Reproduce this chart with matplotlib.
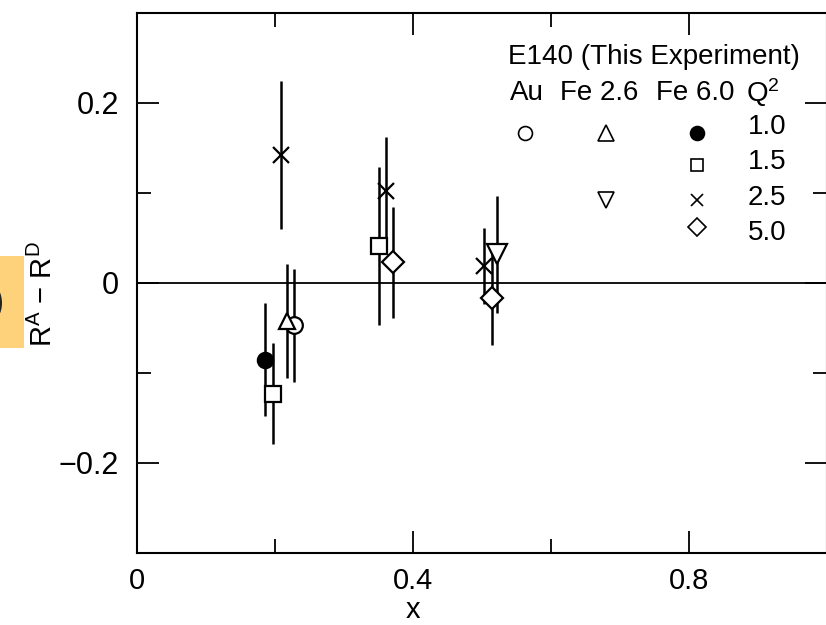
import matplotlib
matplotlib.use("Agg")
import matplotlib.pyplot as plt
from matplotlib.patches import Rectangle, Ellipse

plt.rcParams['font.family'] = ['Liberation Sans', 'DejaVu Sans']
plt.rcParams['mathtext.fontset'] = 'custom'
plt.rcParams['mathtext.rm'] = 'Liberation Sans'
plt.rcParams['mathtext.it'] = 'Liberation Sans'

# E140 measurements of R^A - R^D
au_x = [0.228]
au_y = [-0.047]
au_err = [0.063]

fe26_q10_x = [0.217]
fe26_q10_y = [-0.042]
fe26_q10_err = [0.063]

fe26_q25_x = [0.522]
fe26_q25_y = [0.032]
fe26_q25_err = [0.065]

fe60_q10_x = [0.186]
fe60_q10_y = [-0.085]
fe60_q10_err = [0.063]

fe60_q15_x = [0.197, 0.351]
fe60_q15_y = [-0.123, 0.041]
fe60_q15_err = [0.056, 0.088]

fe60_q25_x = [0.209, 0.361, 0.503]
fe60_q25_y = [0.142, 0.102, 0.019]
fe60_q25_err = [0.082, 0.060, 0.042]

fe60_q50_x = [0.371, 0.514]
fe60_q50_y = [0.023, -0.017]
fe60_q50_err = [0.062, 0.052]

q2_labels = ["1.0", "1.5", "2.5", "5.0"]
column_labels = ["Au", "Fe 2.6", "Fe 6.0", "Q$^2$"]

W, H = 826, 625
fig = plt.figure(figsize=(W / 100, H / 100), dpi=100)
ax = fig.add_axes([137 / W, (H - 553) / H, 690 / W, 540 / H])

ax.set_xlim(0, 1.0)
ax.set_ylim(-0.3, 0.3)
ax.axhline(0, color='black', lw=1.3, zorder=1)

series = [
    (au_x, au_y, au_err, 'o', 'white', 12),
    (fe26_q10_x, fe26_q10_y, fe26_q10_err, '^', 'white', 12),
    (fe26_q25_x, fe26_q25_y, fe26_q25_err, 'v', 'white', 15),
    (fe60_q10_x, fe60_q10_y, fe60_q10_err, 'o', 'black', 11),
    (fe60_q15_x, fe60_q15_y, fe60_q15_err, 's', 'white', 11),
    (fe60_q25_x, fe60_q25_y, fe60_q25_err, 'x', 'black', 11),
    (fe60_q50_x, fe60_q50_y, fe60_q50_err, 'D', 'white', 11),
]
for xs, ys, es, m, fc, ms in series:
    ax.errorbar(xs, ys, yerr=es, fmt='none', ecolor='black', elinewidth=1.8,
                capsize=0, zorder=2)
    ax.plot(xs, ys, linestyle='none', marker=m, markersize=ms,
            markerfacecolor=fc, markeredgecolor='black', markeredgewidth=1.6,
            zorder=3)

ax.set_xticks([0, 0.4, 0.8])
ax.set_xticklabels(["0", "0.4", "0.8"])
ax.set_xticks([0.2, 0.6], minor=True)
ax.set_yticks([-0.2, 0, 0.2])
ax.set_yticklabels(["\u22120.2", "0", "0.2"])
ax.set_yticks([-0.1, 0.1], minor=True)
ax.tick_params(which='both', direction='in', top=True, right=True,
               width=1.3, color='black')
ax.tick_params(which='major', length=16)
ax.tick_params(which='minor', length=10)
ax.tick_params(axis='x', which='major', pad=10, labelsize=21)
ax.tick_params(axis='y', which='major', pad=13, labelsize=22)
for s in ax.spines.values():
    s.set_linewidth(1.5)

ax.set_xlabel("x", fontsize=21)
ax.xaxis.set_label_coords(0.4, -0.08)
ax.set_ylabel("R$^{\\mathrm{A}}$ \u2212 R$^{\\mathrm{D}}$", fontsize=21)
ax.yaxis.set_label_coords(-0.115, 0.48)

# Key drawn inside the axes in pixel-derived axes fractions
def fx(px):
    return (px - 137) / 690

def fy(py):
    return (553 - py) / 540

ax.text(fx(508), fy(57), "E140 (This Experiment)", transform=ax.transAxes,
        fontsize=20, ha='left', va='center')
for lbl, px in zip(column_labels, [510, 560, 656, 746]):
    ax.text(fx(px), fy(93), lbl, transform=ax.transAxes, fontsize=20,
            ha='left', va='center')
for lbl, py in zip(q2_labels, [127, 162, 198, 233]):
    ax.text(fx(748), fy(py), lbl, transform=ax.transAxes, fontsize=20,
            ha='left', va='center')

key_marks = [
    (525, 133, 'o', 'white', 10),
    (606, 133, '^', 'white', 12),
    (697, 133, 'o', 'black', 10),
    (697, 165, 's', 'white', 9),
    (606, 200, 'v', 'white', 12),
    (697, 200, 'x', 'black', 9),
    (697, 227, 'D', 'white', 9),
]
for px, py, m, fc, ms in key_marks:
    ax.plot([fx(px)], [fy(py)], transform=ax.transAxes, marker=m,
            markersize=ms, markerfacecolor=fc, markeredgecolor='black',
            markeredgewidth=1.2, linestyle='none', clip_on=False)

# Highlight tab at the left margin
fig.patches.append(Rectangle((0, (H - 348) / H), 24 / W, 92 / H,
                             transform=fig.transFigure, facecolor='#fdd27a',
                             edgecolor='none', zorder=0))
fig.patches.append(Ellipse((-10 / W, (H - 303) / H), 24 / W, 38 / H,
                           transform=fig.transFigure, facecolor='#222222',
                           edgecolor='none', zorder=1))

fig.savefig("out.png", dpi=100)
